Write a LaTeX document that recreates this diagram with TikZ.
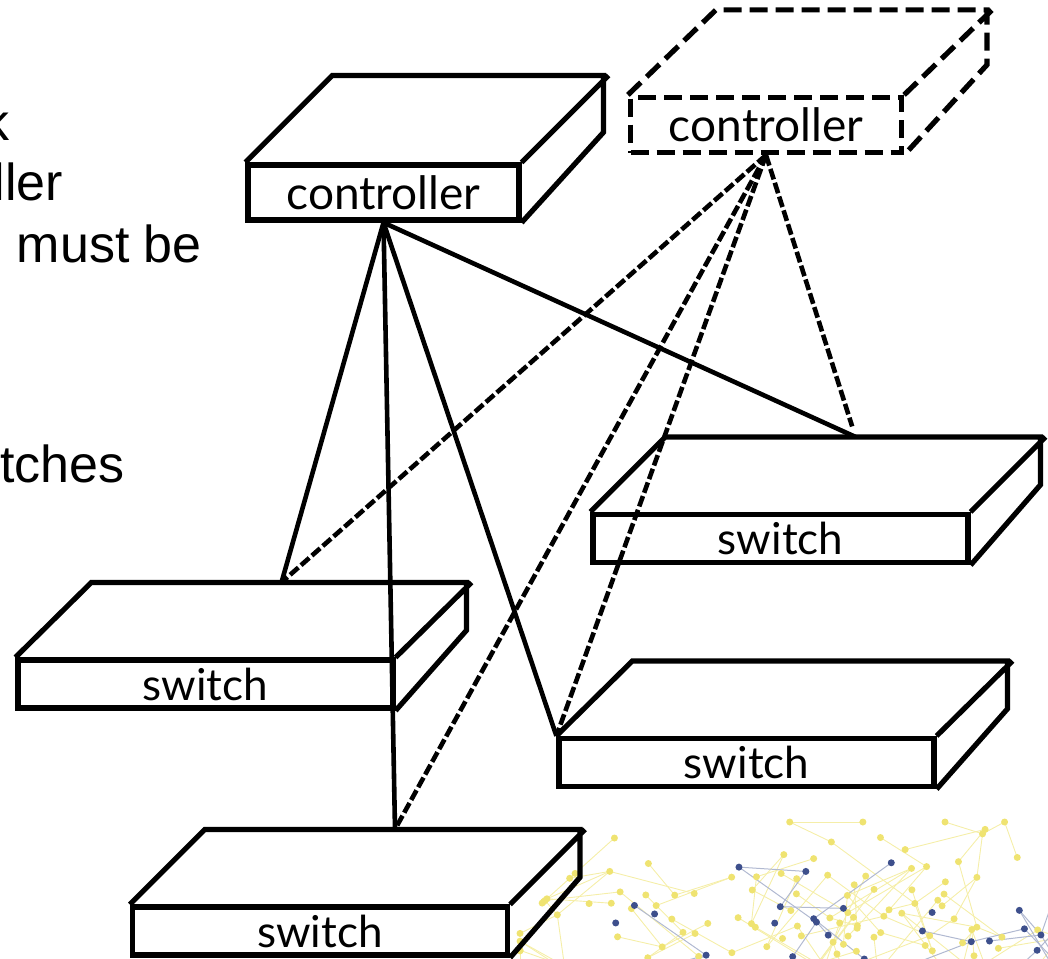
\documentclass[tikz,border=0pt]{standalone}
\usepackage{fontspec}
\setmainfont{Liberation Sans}
\newfontfamily\boxfont{Lato}
\usepackage{tikz}
\definecolor{dotyellow}{rgb}{0.93,0.88,0.38}
\definecolor{dotblue}{rgb}{0.24,0.31,0.55}

\begin{document}
\begin{tikzpicture}[x=1pt,y=-1pt,
	front/.style={draw,line width=5.2pt,inner sep=0pt,minimum width=375pt,minimum height=48pt,font=\boxfont\fontsize{44}{44}\selectfont},
	ctrl/.style={front,minimum width=271pt,minimum height=55pt,font=\boxfont\fontsize{46}{46}\selectfont},
	face/.style={line width=5.2pt},
	spare/.style={dash pattern=on 18pt off 8pt},
	link/.style={line width=4.6pt},
	backup/.style={line width=4.6pt,dash pattern=on 11pt off 3.5pt},
	side/.style={anchor=base east,inner sep=0pt,font=\fontsize{52}{52}\selectfont}]
			\useasboundingbox (0,0) rectangle (1048,958);
			\clip (0,0) rectangle (1048,958);
			
			% faint network in the corner
			\pgfmathsetseed{9}
			\foreach \i in {1,...,120}{
				\ifnum\i<17
					\pgfmathsetmacro{\px}{530+\i*32+20*(rnd-0.5)}
					\pgfmathsetmacro{\py}{966-70*rnd}
					\coordinate (y\i) at (\px,\py);
				\else
					\pgfmathtruncatemacro{\j}{1+int((\i-1)*rnd)}
					\pgfmathsetmacro{\px}{min(1060,max(520,\csname px\j\endcsname+170*(rnd-0.5)))}
					\pgfmathsetmacro{\ptop}{max(822,905-(\px-540)*0.9)}
					\pgfmathsetmacro{\py}{min(966,max(\ptop,\csname py\j\endcsname+150*(rnd-0.5)))}
					\coordinate (y\i) at (\px,\py);
					\draw[dotyellow!55,line width=0.9pt] (y\i) -- (y\j);
				\fi
				\expandafter\xdef\csname px\i\endcsname{\px}
				\expandafter\xdef\csname py\i\endcsname{\py}
			}
			\foreach \i in {1,...,36}{
				\ifnum\i<10
					\pgfmathsetmacro{\qx}{560+\i*52+20*(rnd-0.5)}
					\pgfmathsetmacro{\qy}{966-60*rnd}
					\coordinate (b\i) at (\qx,\qy);
				\else
					\pgfmathtruncatemacro{\j}{1+int((\i-1)*rnd)}
					\pgfmathsetmacro{\qx}{min(1060,max(540,\csname qx\j\endcsname+160*(rnd-0.5)))}
					\pgfmathsetmacro{\ptop}{max(835,915-(\qx-560)*0.8)}
					\pgfmathsetmacro{\qy}{min(966,max(\ptop,\csname qy\j\endcsname+120*(rnd-0.5)))}
					\coordinate (b\i) at (\qx,\qy);
					\draw[dotblue!40,line width=1pt] (b\i) -- (b\j);
				\fi
				\expandafter\xdef\csname qx\i\endcsname{\qx}
				\expandafter\xdef\csname qy\i\endcsname{\qy}
			}
			\foreach \i in {1,...,120} \fill[dotyellow!90] (y\i) circle (3.5);
			\foreach \i in {1,...,36} \fill[dotblue] (b\i) circle (3.5);
			
			% text cut at the left edge
			\node[side] (t1) at (10,140) {k};
			\node[side] (t2) at (63,200) {ller};
			\node[side] (t3) at (202,262) {must be};
			\node[side] (t4) at (125,482) {tches};
			
			% controllers
			\node[ctrl] (c1) at (383.5,192.5) {controller};
			\draw[face] (c1.north west) -- ++(87,-87) -- ++(271,0) -- ++(0,57) -- (c1.south east) (c1.north east) -- ++(87,-87);
			\node[ctrl,spare] (c2) at (766,125) {controller};
			\draw[face,spare] (c2.north west) -- ++(88,-85) -- ++(271,0) -- ++(0,55) -- (c2.south east) (c2.north east) -- ++(88,-85);
			
			% switches
			\node[front] (sw1) at (205.5,684) {switch};
			\draw[face] (sw1.north west) -- ++(76,-75) -- ++(375,0) -- ++(0,48) -- (sw1.south east) (sw1.north east) -- ++(76,-75);
			\node[front] (sw2) at (320,931) {switch};
			\draw[face] (sw2.north west) -- ++(75,-75) -- ++(375,0) -- ++(0,48) -- (sw2.south east) (sw2.north east) -- ++(75,-75);
			\node[front] (sw3) at (780.5,538.5) {switch};
			\draw[face] (sw3.north west) -- ++(75,-75) -- ++(375,0) -- ++(0,48) -- (sw3.south east) (sw3.north east) -- ++(75,-75);
			\node[front] (sw4) at (746.5,762.5) {switch};
			\draw[face] (sw4.north west) -- ++(76,-75) -- ++(375,0) -- ++(0,48) -- (sw4.south east) (sw4.north east) -- ++(76,-75);
			
			\coordinate (sw1-top) at ([shift={(76,-75)}]sw1.north);
			\coordinate (sw2-top) at ([shift={(75,-75)}]sw2.north);
			\coordinate (sw3-top) at ([shift={(75,-75)}]sw3.north);
			
			% links to the controller in use
			\draw[link] (c1.south) -- (sw1-top);
			\draw[link] (c1.south) -- (sw2-top);
			\draw[link] (c1.south) -- (sw4.north west);
			\draw[link] (c1.south) -- (sw3-top);
			
			% links to the second controller
			\draw[backup] (c2.south) -- (sw1-top);
			\draw[backup] (c2.south) -- (sw2-top);
			\draw[backup] (c2.south) -- (sw4.north west);
			\draw[backup,shorten >=11pt] (c2.south) -- (sw3-top);
		\end{tikzpicture}
\end{document}
